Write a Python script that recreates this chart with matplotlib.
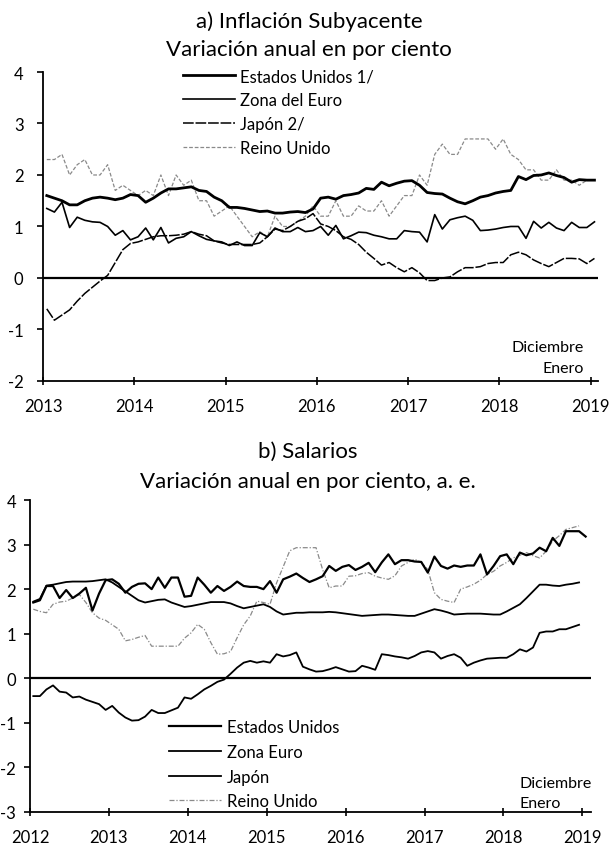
import numpy as np
import pandas as pd
import matplotlib
matplotlib.use("Agg")
import matplotlib.pyplot as plt

plt.rcParams["font.family"] = ["Lato", "DejaVu Sans"]
plt.rcParams["axes.unicode_minus"] = False

# ---- a) Inflacion subyacente, monthly Jan 2013 - Jan 2019
infl_months = pd.date_range("2013-01-01", "2019-01-01", freq="MS")
infl_eu = [1.60, 1.55, 1.50, 1.42, 1.42, 1.50, 1.55, 1.57, 1.55, 1.52, 1.55, 1.62,
           1.60, 1.47, 1.55, 1.65, 1.73, 1.73, 1.75, 1.77, 1.70, 1.68, 1.57, 1.50,
           1.37, 1.37, 1.35, 1.32, 1.29, 1.30, 1.26, 1.26, 1.28, 1.29, 1.27, 1.34,
           1.55, 1.57, 1.53, 1.60, 1.62, 1.65, 1.74, 1.72, 1.86, 1.79, 1.84, 1.88,
           1.89, 1.80, 1.66, 1.64, 1.63, 1.55, 1.48, 1.44, 1.50, 1.57, 1.60, 1.65,
           1.68, 1.70, 1.97, 1.91, 1.99, 2.00, 2.04, 1.99, 1.95, 1.86, 1.91, 1.90,
           1.90]
infl_euro = [1.35, 1.28, 1.47, 0.98, 1.18, 1.12, 1.09, 1.08, 1.00, 0.83, 0.92, 0.74,
             0.80, 0.97, 0.74, 0.98, 0.68, 0.77, 0.80, 0.90, 0.82, 0.75, 0.72, 0.70,
             0.63, 0.70, 0.63, 0.63, 0.88, 0.80, 0.97, 0.90, 0.90, 0.98, 0.90, 0.92,
             1.00, 0.83, 1.02, 0.76, 0.82, 0.89, 0.88, 0.83, 0.80, 0.76, 0.76, 0.92,
             0.90, 0.89, 0.70, 1.23, 0.95, 1.13, 1.17, 1.20, 1.12, 0.92, 0.93, 0.95,
             0.98, 1.00, 1.00, 0.77, 1.10, 0.97, 1.08, 0.97, 0.92, 1.08, 0.98, 0.98,
             1.09]
infl_jp = [-0.60, -0.82, -0.72, -0.62, -0.45, -0.30, -0.18, -0.06, 0.05, 0.30, 0.55, 0.67,
           0.70, 0.75, 0.80, 0.82, 0.82, 0.83, 0.85, 0.90, 0.85, 0.82, 0.72, 0.68,
           0.65, 0.65, 0.65, 0.65, 0.68, 0.80, 0.95, 0.92, 1.00, 1.10, 1.15, 1.25,
           1.05, 1.00, 0.92, 0.80, 0.75, 0.65, 0.50, 0.38, 0.25, 0.30, 0.20, 0.12,
           0.20, 0.10, -0.05, -0.05, 0.00, 0.02, 0.12, 0.20, 0.20, 0.22, 0.28, 0.30,
           0.30, 0.45, 0.50, 0.45, 0.35, 0.28, 0.22, 0.30, 0.38, 0.38, 0.37, 0.28,
           0.38]
infl_uk = [2.3, 2.3, 2.4, 2.0, 2.2, 2.3, 2.0, 2.0, 2.2, 1.7, 1.8, 1.7,
           1.6, 1.7, 1.6, 2.0, 1.6, 2.0, 1.8, 1.9, 1.5, 1.5, 1.2, 1.3,
           1.4, 1.2, 1.0, 0.8, 0.9, 0.8, 1.2, 1.0, 1.0, 1.1, 1.2, 1.4,
           1.2, 1.2, 1.5, 1.2, 1.2, 1.4, 1.3, 1.3, 1.5, 1.2, 1.4, 1.6,
           1.6, 2.0, 1.8, 2.4, 2.6, 2.4, 2.4, 2.7, 2.7, 2.7, 2.7, 2.5,
           2.7, 2.4, 2.3, 2.1, 2.1, 1.9, 1.9, 2.1, 1.9, 1.9, 1.8, 1.9,
           1.9]
infl_labels = ["Estados Unidos 1/", "Zona del Euro", "Japón 2/", "Reino Unido"]

# ---- b) Salarios, monthly Jan 2012 - Jan 2019
sal_months = pd.date_range("2012-01-01", "2019-01-01", freq="MS")
sal_eu = [1.70, 1.75, 2.07, 2.07, 1.80, 1.98, 1.80, 1.90, 2.03, 1.52, 1.90, 2.20,
          2.22, 2.12, 1.92, 2.05, 2.12, 2.13, 2.00, 2.26, 2.03, 2.26, 2.26, 1.83,
          1.85, 2.26, 2.10, 1.92, 2.07, 1.96, 2.05, 2.17, 2.07, 2.05, 2.05, 2.00,
          2.18, 1.92, 2.22, 2.28, 2.35, 2.25, 2.16, 2.22, 2.29, 2.52, 2.41, 2.50,
          2.54, 2.43, 2.50, 2.59, 2.38, 2.60, 2.78, 2.56, 2.65, 2.65, 2.62, 2.61,
          2.37, 2.73, 2.52, 2.46, 2.53, 2.50, 2.53, 2.53, 2.78, 2.33, 2.52, 2.74,
          2.78, 2.56, 2.82, 2.76, 2.80, 2.93, 2.85, 3.15, 2.97, 3.30, 3.30, 3.30,
          3.18]
sal_euro = [1.72, 1.78, 2.08, 2.10, 2.13, 2.16, 2.17, 2.17, 2.17, 2.18, 2.20, 2.22,
            2.15, 2.05, 1.95, 1.85, 1.75, 1.70, 1.73, 1.76, 1.77, 1.70, 1.65, 1.60,
            1.62, 1.65, 1.68, 1.71, 1.71, 1.71, 1.68, 1.62, 1.57, 1.60, 1.63, 1.66,
            1.60, 1.50, 1.43, 1.45, 1.47, 1.47, 1.48, 1.48, 1.48, 1.49, 1.48, 1.46,
            1.44, 1.42, 1.40, 1.41, 1.42, 1.43, 1.43, 1.42, 1.41, 1.40, 1.40, 1.45,
            1.50, 1.55, 1.52, 1.48, 1.43, 1.44, 1.45, 1.45, 1.45, 1.44, 1.43, 1.43,
            1.50, 1.58, 1.66, 1.80, 1.95, 2.10, 2.10, 2.08, 2.07, 2.10, 2.12, 2.15,
            np.nan]
sal_jp = [-0.40, -0.40, -0.25, -0.16, -0.30, -0.32, -0.43, -0.41, -0.48, -0.53, -0.58, -0.71,
          -0.62, -0.77, -0.88, -0.95, -0.94, -0.86, -0.71, -0.78, -0.78, -0.72, -0.66, -0.43,
          -0.46, -0.36, -0.25, -0.17, -0.08, -0.03, 0.10, 0.24, 0.35, 0.39, 0.35, 0.38,
          0.35, 0.54, 0.49, 0.52, 0.58, 0.26, 0.20, 0.15, 0.16, 0.20, 0.25, 0.20,
          0.15, 0.16, 0.28, 0.24, 0.19, 0.54, 0.52, 0.49, 0.47, 0.44, 0.50, 0.58,
          0.61, 0.58, 0.44, 0.50, 0.54, 0.46, 0.28, 0.35, 0.40, 0.44, 0.45, 0.46,
          0.46, 0.54, 0.65, 0.60, 0.69, 1.02, 1.05, 1.05, 1.10, 1.10, 1.15, 1.20,
          np.nan]
sal_uk = [1.55, 1.50, 1.47, 1.66, 1.71, 1.73, 1.80, 1.88, 1.70, 1.47, 1.35, 1.30,
          1.20, 1.10, 0.84, 0.87, 0.92, 0.96, 0.72, 0.72, 0.72, 0.72, 0.72, 0.90,
          1.02, 1.21, 1.10, 0.80, 0.54, 0.55, 0.60, 0.91, 1.20, 1.40, 1.73, 1.70,
          1.66, 2.14, 2.50, 2.86, 2.93, 2.93, 2.93, 2.93, 2.44, 2.03, 2.07, 2.07,
          2.29, 2.30, 2.35, 2.37, 2.29, 2.25, 2.22, 2.30, 2.52, 2.60, 2.67, 2.60,
          2.44, 1.92, 1.77, 1.73, 1.70, 2.00, 2.05, 2.11, 2.20, 2.33, 2.40, 2.52,
          2.60, 2.70, 2.76, 2.82, 2.75, 2.70, 2.85, 3.08, 3.20, 3.34, 3.38, 3.42,
          np.nan]
sal_labels = ["Estados Unidos", "Zona Euro", "Japón", "Reino Unido"]


def decimal_year(months):
    return months.year + (months.month - 0.5) / 12.0


def style_axes(ax, years, ylim, xmax, ypad):
    ax.set_xlim(years[0], xmax)
    ax.set_ylim(*ylim)
    ax.set_xticks(years)
    ax.set_yticks(range(ylim[0], ylim[1] + 1))
    for side in ["top", "right"]:
        ax.spines[side].set_visible(False)
    for side in ["left", "bottom"]:
        ax.spines[side].set_linewidth(1.3)
    ax.tick_params(axis="y", direction="out", length=4, width=1.2, pad=ypad, labelsize=12)
    ax.tick_params(axis="x", direction="inout", length=6, width=1.2, pad=9, labelsize=12)
    ax.axhline(0, color="black", lw=1.6, zorder=1)


fig = plt.figure(figsize=(6.15, 8.45), dpi=100)

# ---- panel a
ax1 = fig.add_axes([0.0699, 0.548, 0.9024, 0.3656])
x1 = decimal_year(infl_months)
ax1.plot(x1, infl_uk, color="#8a8a8a", lw=0.9, dashes=(3, 1.5), label=infl_labels[3], zorder=2)
ax1.plot(x1, infl_jp, color="black", lw=1.1, dashes=(7, 1.2), label=infl_labels[2], zorder=3)
ax1.plot(x1, infl_euro, color="black", lw=1.2, label=infl_labels[1], zorder=3)
ax1.plot(x1, infl_eu, color="black", lw=2.0, label=infl_labels[0], zorder=4)
style_axes(ax1, list(range(2013, 2020)), (-2, 4), 2019.08, 10)
h, l = ax1.get_legend_handles_labels()
ax1.legend(h[::-1], l[::-1], loc="upper left", bbox_to_anchor=(0.252, 1.012),
           frameon=False, fontsize=12, handlelength=3.1, handletextpad=0.35,
           labelspacing=0.48, borderpad=0, borderaxespad=0)
ax1.text(0.975, 0.11, "Diciembre", transform=ax1.transAxes, ha="right", va="center", fontsize=11.5)
ax1.text(0.975, 0.042, "Enero", transform=ax1.transAxes, ha="right", va="center", fontsize=11.5)
fig.text(0.503, 0.974, "a) Inflación Subyacente", ha="center", va="center", fontsize=16)
fig.text(0.503, 0.941, "Variación anual en por ciento", ha="center", va="center", fontsize=16)

# ---- panel b
ax2 = fig.add_axes([0.0488, 0.0379, 0.9122, 0.3692])
x2 = decimal_year(sal_months)
ax2.plot(x2, sal_uk, color="#8a8a8a", lw=0.9, dashes=(4, 1.5, 1, 1.5), label=sal_labels[3], zorder=2)
ax2.plot(x2, sal_jp, color="black", lw=1.3, label=sal_labels[2], zorder=3)
ax2.plot(x2, sal_euro, color="black", lw=1.3, label=sal_labels[1], zorder=3)
ax2.plot(x2, sal_eu, color="black", lw=1.6, label=sal_labels[0], zorder=4)
style_axes(ax2, list(range(2012, 2020)), (-3, 4), 2019.11, 6)
h, l = ax2.get_legend_handles_labels()
ax2.legend(h[::-1], l[::-1], loc="upper left", bbox_to_anchor=(0.248, 0.297),
           frameon=False, fontsize=12, handlelength=3.1, handletextpad=0.35,
           labelspacing=0.52, borderpad=0, borderaxespad=0)
ax2.text(0.872, 0.092, "Diciembre", transform=ax2.transAxes, ha="left", va="center", fontsize=11.5)
ax2.text(0.872, 0.028, "Enero", transform=ax2.transAxes, ha="left", va="center", fontsize=11.5)
fig.text(0.5, 0.465, "b) Salarios", ha="center", va="center", fontsize=16)
fig.text(0.5, 0.430, "Variación anual en por ciento, a. e.", ha="center", va="center", fontsize=16)

fig.savefig("out.png", dpi=100)
